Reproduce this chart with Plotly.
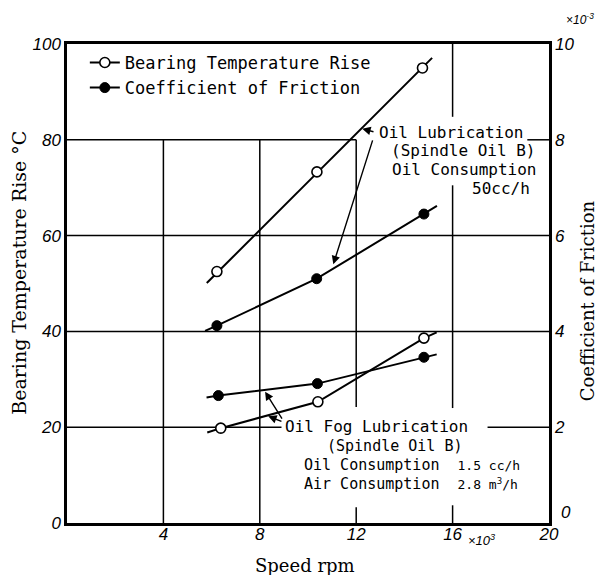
import plotly.graph_objects as go

# ---------------- data ----------------
# Oil lubrication (Spindle Oil B, 50 cc/h)
oil_speed = [6.22, 10.37, 14.75]          # x10^3 rpm
oil_temp = [52.5, 73.3, 95.0]             # deg C
oil_cof_speed = [6.22, 10.36, 14.81]
oil_cof = [4.12, 5.10, 6.45]              # x10^-3

# Oil fog lubrication
fog_speed = [6.38, 10.41, 14.81]
fog_temp = [19.8, 25.3, 38.6]
fog_cof_speed = [6.28, 10.39, 14.81]
fog_cof = [2.66, 2.91, 3.46]

# drawn trend lines (as hand drawn in the figure)
oil_temp_line_x = [5.80, 15.15]
oil_temp_line_y = [50.1, 97.1]
oil_cof_line_x = [5.73, 6.22, 10.36, 14.81, 15.35]
oil_cof_line_y = [4.01, 4.12, 5.10, 6.45, 6.62]
fog_temp_line_x = [5.82, 6.38, 10.41, 14.81, 15.34]
fog_temp_line_y = [18.9, 19.8, 25.3, 38.6, 39.8]
fog_cof_line_x = [5.79, 6.28, 10.39, 14.81, 15.34]
fog_cof_line_y = [2.62, 2.66, 2.91, 3.46, 3.52]

x_ticks = [4, 8, 12, 16, 20]
y_ticks = [0, 20, 40, 60, 80, 100]
y2_ticks = [2, 4, 6, 8, 10]

legend_names = ["Bearing Temperature Rise", "Coefficient of Friction"]

# ---------------- styling ----------------
MONO = "DejaVu Sans Mono"
SERIF = "DejaVu Serif"
TICKF = dict(family="Liberation Sans", size=17, color="black", style="italic")
LW = 2

fig = go.Figure()

def line(x, y, axis="y"):
    fig.add_trace(go.Scatter(x=x, y=y, mode="lines", yaxis=axis, showlegend=False,
                             line=dict(color="black", width=LW), hoverinfo="skip"))

line(oil_temp_line_x, oil_temp_line_y)
line(oil_cof_line_x, oil_cof_line_y, "y2")
line(fog_temp_line_x, fog_temp_line_y)
line(fog_cof_line_x, fog_cof_line_y, "y2")

open_m = dict(symbol="circle", size=10, color="white", line=dict(color="black", width=1.6))
fill_m = dict(symbol="circle", size=10, color="black", line=dict(color="black", width=1))

fig.add_trace(go.Scatter(x=oil_speed, y=oil_temp, mode="markers", marker=open_m, showlegend=False))
fig.add_trace(go.Scatter(x=fog_speed, y=fog_temp, mode="markers", marker=open_m, showlegend=False))
fig.add_trace(go.Scatter(x=oil_cof_speed, y=oil_cof, mode="markers", marker=fill_m,
                         yaxis="y2", showlegend=False))
fig.add_trace(go.Scatter(x=fog_cof_speed, y=fog_cof, mode="markers", marker=fill_m,
                         yaxis="y2", showlegend=False))

# legend entries
fig.add_trace(go.Scatter(x=[None], y=[None], mode="lines+markers", name=legend_names[0],
                         marker=open_m, line=dict(color="black", width=LW)))
fig.add_trace(go.Scatter(x=[None], y=[None], mode="lines+markers", name=legend_names[1],
                         marker=fill_m, line=dict(color="black", width=LW)))

# ---------------- broken grid lines ----------------
h_grid = [(20, 0, 8.9), (20, 17.45, 20), (40, 0, 20), (60, 0, 20), (80, 0, 12), (80, 19.1, 20)]
v_grid = [(4, 0, 80), (8, 0, 80), (12, 0, 3.3), (12, 24.2, 80),
          (16, 0, 3.7), (16, 24.0, 70.5), (16, 84.8, 100)]
shapes = []
for yv, x0, x1 in h_grid:
    shapes.append(dict(type="line", xref="x", yref="y", x0=x0, x1=x1, y0=yv, y1=yv,
                       line=dict(color="black", width=1.5), layer="below"))
for xv, y0, y1 in v_grid:
    shapes.append(dict(type="line", xref="x", yref="y", x0=xv, x1=xv, y0=y0, y1=y1,
                       line=dict(color="black", width=1.5), layer="below"))

# ---------------- annotations ----------------
ann = []
def txt(x, y, s, anchor="left", size=16, fam=MONO, xref="x", yref="y", angle=0, style="normal"):
    ann.append(dict(x=x, y=y, xref=xref, yref=yref, text=s, showarrow=False,
                    xanchor=anchor, yanchor="middle", textangle=angle,
                    font=dict(family=fam, size=size, color="black", style=style)))

txt(12.86, 81.6, "Oil Lubrication")
txt(16.47, 77.7, "(Spindle Oil B)", "center")
txt(16.49, 73.7, "Oil Consumption", "center")
txt(19.3, 69.9, "50cc/h", "right")

txt(8.96, 20.2, "Oil Fog Lubrication", size=16)
txt(13.6, 16.1, "(Spindle Oil B)", "center", size=15)
txt(9.75, 12.1, "Oil Consumption  <span style='font-size:13px'>1.5 cc/h</span>", size=15)
txt(9.75, 8.2, "Air Consumption  <span style='font-size:13px'>2.8 m<sup>3</sup>/h</span>", size=15)

def arrow(tx, ty, hx, hy):
    ann.append(dict(x=hx, y=hy, ax=tx, ay=ty, xref="x", yref="y", axref="x", ayref="y",
                    text="", showarrow=True, arrowhead=2, arrowsize=1.2, arrowwidth=1.4,
                    arrowcolor="black", standoff=0, startstandoff=0))

arrow(12.78, 81.6, 12.25, 82.3)
arrow(12.70, 80.2, 11.05, 54.0)
arrow(8.96, 21.1, 8.35, 22.3)
arrow(8.96, 21.5, 8.22, 27.4)

# axis titles
txt(-0.10, 0.522, "Bearing Temperature Rise °C", "center", 19, SERIF, "paper", "paper", -90)
txt(1.079, 0.463, "Coefficient of Friction", "center", 18, SERIF, "paper", "paper", -90)
txt(0.494, -0.0877, "Speed rpm", "center", 18, SERIF, "paper", "paper")
# multipliers and corner label
txt(1.032, 1.052, "×10<sup>-3</sup>", "left", 12, "Liberation Sans", "paper", "paper", style="italic")
txt(0.828, -0.036, "×10<sup>3</sup>", "left", 13, "Liberation Sans", "paper", "paper", style="italic")
txt(1.035, 0.022, "0", "center", 17, "Liberation Sans", "paper", "paper", style="italic")

fig.update_layout(
    width=598, height=575,
    margin=dict(l=67, r=49, t=44, b=52),
    paper_bgcolor="white", plot_bgcolor="white",
    shapes=shapes, annotations=ann,
    showlegend=True,
    legend=dict(x=0.037, y=0.998, xanchor="left", yanchor="top", bgcolor="rgba(0,0,0,0)",
                font=dict(family=MONO, size=17, color="black"), tracegroupgap=0,
                itemwidth=30),
    xaxis=dict(range=[0, 20], tickvals=x_ticks, ticktext=[str(v) for v in x_ticks],
               showgrid=False, zeroline=False, showline=True, mirror=True,
               linecolor="black", linewidth=2.5, ticks="", tickfont=TICKF,
               ticklabelstandoff=-6),
    yaxis=dict(range=[0, 100], tickvals=y_ticks, ticktext=[str(v) for v in y_ticks],
               showgrid=False, zeroline=False, showline=True, mirror=True,
               linecolor="black", linewidth=2.5, ticks="", tickfont=TICKF),
    yaxis2=dict(range=[0, 10], overlaying="y", side="right", tickvals=y2_ticks,
                ticktext=[str(v) for v in y2_ticks], showgrid=False, zeroline=False,
                showline=False, ticks="", tickfont=TICKF, ticklabelstandoff=5),
)

fig.write_html("out.html")
